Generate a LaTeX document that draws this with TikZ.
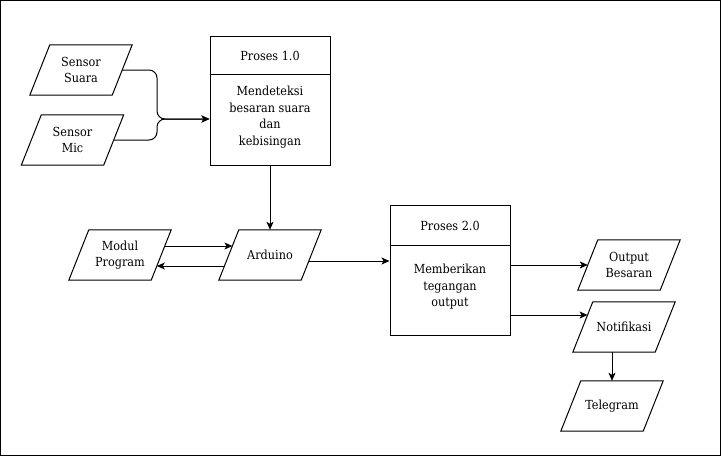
\documentclass[tikz,border=0pt]{standalone}
\usepackage{fontspec}
\setmainfont{DejaVu Serif Condensed}
\usetikzlibrary{arrows.meta,calc}
\begin{document}
\begin{tikzpicture}[x=1pt,y=-1pt,
  every node/.style={font=\fontsize{12.5}{16.5}\selectfont, text=black},
  ln/.style={draw=black, line width=1pt},
  arr/.style={ln, -{Stealth[length=8pt,width=7pt,inset=2pt]}},
  para/.style={minimum width=82pt, minimum height=50pt, inner sep=0pt, align=center},
  box/.style={ln, minimum width=120pt, inner sep=0pt},
  txt/.style={align=center, inner sep=0pt}]
\useasboundingbox (0,0) rectangle (721,456);
\draw[ln] (0.5,0.5) rectangle (720.5,455.5);

% parallelogram nodes
\node[para] (s1) at (81,70) {Sensor\\Suara};
\node[para] (s2) at (72.5,140) {Sensor\\Mic};
\node[para] (mp) at (120,255) {Modul\\Program};
\node[para] (ard) at (270,255) {Arduino};
\node[para] (ob) at (629,265) {Output\\Besaran};
\node[para] (noti) at (624,327) {Notifikasi};
\node[para] (tele) at (612,406) {Telegram};
\foreach \n in {s1,s2,mp,ard,ob,noti,tele}
  \draw[ln] ($(\n.north west)+(10,0)$) -- ($(\n.north east)+(10,0)$)
    -- ($(\n.south east)+(-10,0)$) -- ($(\n.south west)+(-10,0)$) -- cycle;

% process boxes
\node[box, minimum height=129pt] (p1) at (270,100.5) {};
\draw[ln] ($(p1.north west)+(0,39)$) coordinate (p1d1) -- ($(p1.north east)+(0,39)$) coordinate (p1d2);
\node[txt] (p1t) at (270,55.5) {Proses 1.0};
\node[txt] (p1b) at (270,117) {Mendeteksi\\besaran suara\\dan\\kebisingan};

\node[box, minimum height=130pt] (p2) at (450,270) {};
\draw[ln] ($(p2.north west)+(0,41)$) coordinate (p2d1) -- ($(p2.north east)+(0,41)$) coordinate (p2d2);
\node[txt] (p2t) at (450,226) {Proses 2.0};
\node[txt] (p2b) at (450,287) {Memberikan\\tegangan\\output};

% connectors
\coordinate (jn) at (157,119);
\draw[arr, rounded corners=8pt] (s1.east) -- (jn |- s1.east) -- (jn) -- (p1.west |- jn);
\draw[arr, rounded corners=8pt] (s2.east) -- (jn |- s2.east) -- (jn) -- (p1.west |- jn);
\draw[arr] (p1.south) -- (ard.north);
\draw[arr] ([shift={(3.6,-9)}]mp.east) -- ([shift={(3.6,-9)}]ard.west);
\draw[arr] ([shift={(-4.4,11)}]ard.west) -- ([shift={(-4.4,11)}]mp.east);
\draw[arr] ([shift={(-2.4,6)}]ard.east) -- ([shift={(0,-9)}]p2.west);
\draw[arr] (p2.east |- ob.west) -- (ob.west);
\draw[arr] ([shift={(0,45)}]p2.east) -- ([shift={(4.8,-12)}]noti.west);
\draw[arr] (tele.north |- noti.south) -- (tele.north);
\end{tikzpicture}
\end{document}
